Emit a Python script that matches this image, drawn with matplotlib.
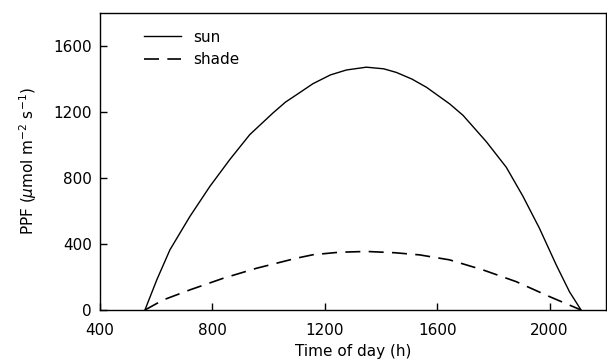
import matplotlib
matplotlib.use('Agg')
import matplotlib.pyplot as plt

plt.rcParams['font.family'] = 'DejaVu Sans'
plt.rcParams['mathtext.fontset'] = 'dejavusans'

# sun-leaf PPF over the day
sun_time = [560, 602, 649, 720, 791, 862, 933, 1016, 1060, 1111, 1158, 1220, 1277, 1348, 1410, 1455,
            1510, 1562, 1644, 1692, 1775, 1846, 1905, 1964, 2024, 2071, 2112]
sun_ppf = [0, 182, 365, 567, 749, 912, 1063, 1195, 1260, 1318, 1372, 1425, 1455, 1472, 1462, 1440,
           1400, 1350, 1250, 1180, 1020, 865, 690, 495, 272, 110, 0]

# shade-leaf PPF
shade_time = [560, 625, 720, 838, 957, 1099, 1158, 1250, 1348, 1450, 1538, 1644,
              1763, 1881, 2000, 2112]
shade_ppf = [0, 61, 122, 192, 253, 314, 335, 350, 355, 347, 334, 304,
             243, 172, 81, 0]

x_ticks = [400, 800, 1200, 1600, 2000]
y_ticks = [0, 400, 800, 1200, 1600]

fig = plt.figure(figsize=(6.07, 3.63), dpi=100)
ax = fig.add_axes([0.1647, 0.146, 0.8333, 0.818])

ax.plot(sun_time, sun_ppf, color='black', linewidth=1.0, label='sun')
ax.plot(shade_time, shade_ppf, color='black', linewidth=1.2, dashes=(9, 5), label='shade')

ax.set_xlim(400, 2200)
ax.set_ylim(0, 1800)
ax.set_xticks(x_ticks)
ax.set_yticks(y_ticks)
ax.tick_params(direction='in', length=5, width=1, labelsize=11)
ax.tick_params(axis='x', pad=9)
ax.tick_params(axis='y', pad=6)
for s in ax.spines.values():
    s.set_linewidth(1.0)

ax.set_xlabel('Time of day (h)', fontsize=11, labelpad=5)
ax.set_ylabel(r'PPF ($\mu$mol m$^{-2}$ s$^{-1}$)', fontsize=11, labelpad=10)

ax.legend(loc='upper left', bbox_to_anchor=(0.06, 0.99), frameon=False,
          fontsize=11, handlelength=2.4, handletextpad=0.8, labelspacing=0.5)

fig.savefig('out.png', dpi=100)
